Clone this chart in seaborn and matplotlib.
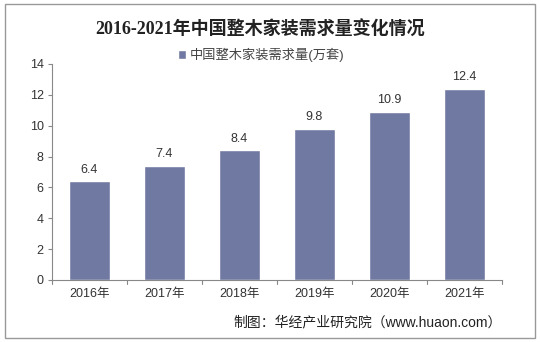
import matplotlib
matplotlib.use("Agg")
import matplotlib.pyplot as plt
import seaborn as sns
import pandas as pd
from matplotlib.patches import Rectangle

years = ["2016年", "2017年", "2018年", "2019年", "2020年", "2021年"]
values = [6.4, 7.4, 8.4, 9.8, 10.9, 12.4]
series_name = "中国整木家装需求量(万套)"
title = "2016-2021年中国整木家装需求量变化情况"
source = "制图：华经产业研究院（www.huaon.com）"
yticks = [0, 2, 4, 6, 8, 10, 12, 14]

sns.set_theme(style="white")
plt.rcParams['font.family'] = ['Liberation Sans', 'Noto Sans CJK SC', 'DejaVu Sans']

df = pd.DataFrame({"year": years, "value": values})
bar_color = "#7079a1"

fig = plt.figure(figsize=(5.4, 3.42), dpi=100)
ax = fig.add_axes([0.0963, 0.1813, 0.8333, 0.6316])
sns.barplot(data=df, x="year", y="value", color=bar_color, width=0.54,
            saturation=1, ax=ax, label=series_name)

ax.set_ylim(0, 14)
ax.set_xlim(-0.5, len(years) - 0.5)
ax.set_yticks(yticks)
ax.set_yticklabels([str(v) for v in yticks], fontsize=9, color="#333333")
ax.set_xlabel("")
ax.set_ylabel("")
ax.tick_params(axis="x", length=0, labelsize=9, labelcolor="#333333", pad=6)
ax.tick_params(axis="y", length=3, width=0.8, color="#888888", left=True, pad=3)
for x in range(len(years) + 1):
    ax.plot([x - 0.5, x - 0.5], [0, -0.25], color="#888888", lw=0.8, clip_on=False)

for s in ["top", "right"]:
    ax.spines[s].set_visible(False)
for s in ["left", "bottom"]:
    ax.spines[s].set_color("#888888")
    ax.spines[s].set_linewidth(0.8)

for i, v in enumerate(values):
    ax.text(i, v + 0.35, f"{v}", ha="center", va="bottom", fontsize=9, color="#333333")

leg = ax.legend(loc="upper center", bbox_to_anchor=(0.465, 1.13), frameon=False,
                fontsize=9.5, handlelength=0.6, handleheight=0.6, handletextpad=0.3)
for t in leg.get_texts():
    t.set_color("#444444")

fig.text(0.482, 0.912, title, ha="center", va="center", fontsize=13,
         fontweight="bold", color="#222222",
         family=['Liberation Serif', 'Noto Sans CJK SC'])
fig.text(0.93, 0.058, source, ha="right", va="center", fontsize=10, color="#222222")

fig.patches.append(Rectangle((0.009, 0.012), 0.982, 0.976, transform=fig.transFigure,
                             fill=False, edgecolor="#999999", linewidth=1.0))

fig.savefig("out.png", dpi=100)
